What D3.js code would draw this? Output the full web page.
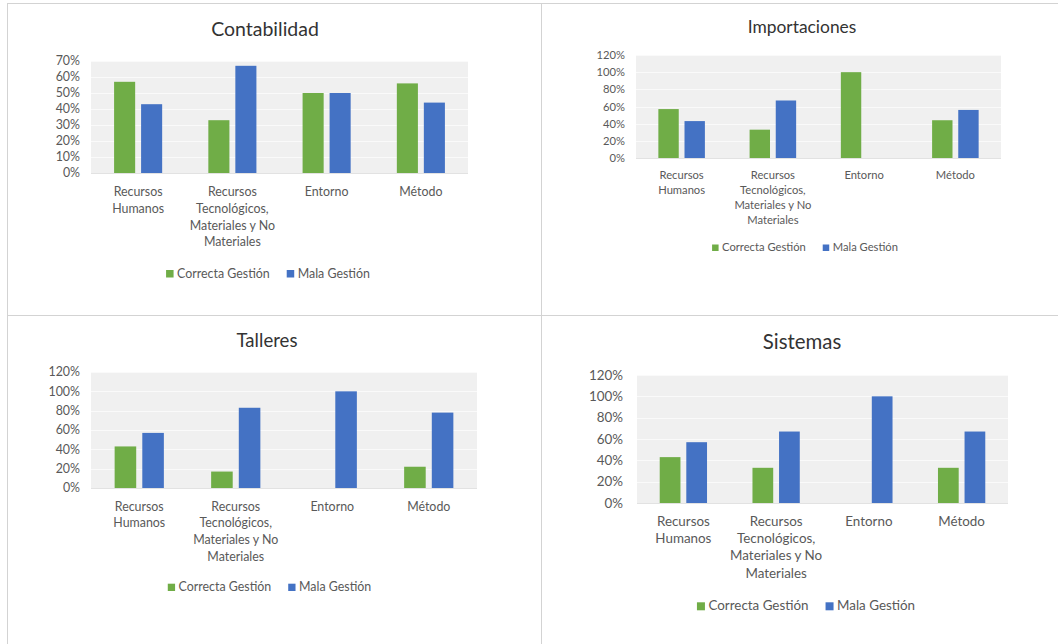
<!DOCTYPE html>
<html><head><meta charset="utf-8">
<script src="https://cdn.jsdelivr.net/npm/d3@7"></script>
<style>
html,body{margin:0;padding:0;background:#fff;}
svg{display:block;font-family:Lato,"Open Sans",sans-serif;}
</style></head>
<body>
<svg id="c" width="1058" height="644"></svg>
<script>
// ---- data ----
const categories = ["Recursos Humanos", "Recursos Tecnológicos, Materiales y No Materiales", "Entorno", "Método"];
const categoryLines = [["Recursos","Humanos"],["Recursos","Tecnológicos,","Materiales y No","Materiales"],["Entorno"],["Método"]];
const seriesNames = ["Correcta Gestión", "Mala Gestión"];
const contabilidadCorrecta = [57, 33, 50, 56];
const contabilidadMala     = [43, 67, 50, 44];
const importacionesCorrecta = [57, 33, 100, 44];
const importacionesMala     = [43, 67, 0, 56];
const talleresCorrecta = [43, 17, 0, 22];
const talleresMala     = [57, 83, 100, 78];
const sistemasCorrecta = [43, 33, 0, 33];
const sistemasMala     = [57, 67, 100, 67];
const ticksContabilidad = [0, 10, 20, 30, 40, 50, 60, 70];
const ticks120 = [0, 20, 40, 60, 80, 100, 120];

// ---- layout ----
const colors = ["#70ad47", "#4472c4"];
const panels = [
  {title:"Contabilidad", a:contabilidadCorrecta, b:contabilidadMala, ticks:ticksContabilidad,
   tSize:19.5, fSize:12.4, tx:265, ty:36, px:[91,468], py:[61,173], yLabX:80, xlY:196, lh:16.8, lgY:277.5, lgCx:268, sq:7.5},
  {title:"Importaciones", a:importacionesCorrecta, b:importacionesMala, ticks:ticks120,
   tSize:17.4, fSize:11.2, tx:802, ty:33, px:[636,1001], py:[55,158], yLabX:625, xlY:179, lh:15, lgY:251, lgCx:805, sq:6.5},
  {title:"Talleres", a:talleresCorrecta, b:talleresMala, ticks:ticks120,
   tSize:18.6, fSize:12.4, tx:267, ty:347, px:[91,477], py:[372,488], yLabX:80, xlY:510.7, lh:16.7, lgY:591, lgCx:269.5, sq:7.3},
  {title:"Sistemas", a:sistemasCorrecta, b:sistemasMala, ticks:ticks120,
   tSize:20.4, fSize:13.4, tx:802, ty:349, px:[637,1008], py:[375,503], yLabX:623, xlY:525.7, lh:17.3, lgY:610.3, lgCx:806, sq:8}
];

const svg = d3.select("#c");
// panel borders
const bc = "#d3d3d3";
svg.append("line").attr("x1",7).attr("x2",1058).attr("y1",3.5).attr("y2",3.5).attr("stroke",bc);
svg.append("line").attr("x1",7).attr("x2",1058).attr("y1",315.5).attr("y2",315.5).attr("stroke",bc);
svg.append("line").attr("x1",7.5).attr("x2",7.5).attr("y1",3).attr("y2",644).attr("stroke",bc);
svg.append("line").attr("x1",541.5).attr("x2",541.5).attr("y1",3).attr("y2",644).attr("stroke",bc);

panels.forEach(p => {
  const g = svg.append("g");
  const ymax = p.ticks[p.ticks.length-1];
  const y = d3.scaleLinear().domain([0, ymax]).range([p.py[1], p.py[0]]);
  const x0 = d3.scaleBand().domain(categories).range(p.px).paddingInner(0.49).paddingOuter(0.245);
  const x1 = d3.scaleBand().domain(seriesNames).range([0, x0.bandwidth()]).paddingInner(0.22);
  const xc = d3.scaleBand().domain(categories).range(p.px);

  // plot bg
  g.append("rect").attr("x",p.px[0]).attr("y",p.py[0]).attr("width",p.px[1]-p.px[0]).attr("height",p.py[1]-p.py[0]).attr("fill","#f0f0f0");
  // gridlines
  g.selectAll(".grid").data(p.ticks.slice(1)).join("line")
    .attr("x1",p.px[0]).attr("x2",p.px[1])
    .attr("y1",d=>Math.round(y(d))+0.5).attr("y2",d=>Math.round(y(d))+0.5)
    .attr("stroke","#fafafa").attr("stroke-width",1);
  // axis baseline
  g.append("line").attr("x1",p.px[0]).attr("x2",p.px[1]).attr("y1",p.py[1]+0.5).attr("y2",p.py[1]+0.5).attr("stroke","#e2e2e2");

  // y axis
  const yAxis = d3.axisLeft(y).tickValues(p.ticks).tickFormat(d=>d+"%").tickSize(0).tickPadding(0);
  const ya = g.append("g").attr("transform",`translate(${p.yLabX},0)`).call(yAxis);
  ya.select(".domain").remove();
  ya.selectAll("text").attr("fill","#595959").style("font-size",p.fSize+"px").style("font-family","Lato");

  // bars
  const rows = categories.map((c,i)=>({cat:c, vals:[p.a[i], p.b[i]]}));
  const grp = g.selectAll(".cat").data(rows).join("g").attr("transform",d=>`translate(${x0(d.cat)},0)`);
  grp.selectAll("rect").data(d=>d.vals.map((v,j)=>({s:seriesNames[j], v, j}))).join("rect")
    .attr("x",d=>x1(d.s)).attr("width",x1.bandwidth())
    .attr("y",d=>y(d.v)).attr("height",d=>y(0)-y(d.v))
    .attr("fill",d=>colors[d.j]);

  // x labels
  categories.forEach((c,i)=>{
    const t = g.append("text").attr("text-anchor","middle").attr("fill","#595959")
      .style("font-size",p.fSize+"px");
    categoryLines[i].forEach((ln,k)=>{
      t.append("tspan").attr("x",xc(c)+xc.bandwidth()/2).attr("y",p.xlY + k*p.lh).text(ln);
    });
  });

  // title
  g.append("text").attr("x",p.tx).attr("y",p.ty).attr("text-anchor","middle")
    .attr("fill","#333").style("font-size",p.tSize+"px").text(p.title);

  // legend
  const lg = g.append("g");
  let cx = 0;
  const items = [];
  seriesNames.forEach((s,j)=>{
    const r = lg.append("rect").attr("x",cx).attr("y",p.lgY-p.sq).attr("width",p.sq).attr("height",p.sq).attr("fill",colors[j]);
    cx += p.sq + 3.5;
    const t = lg.append("text").attr("x",cx).attr("y",p.lgY).attr("fill","#595959").style("font-size",p.fSize+"px").text(s);
    cx += t.node().getComputedTextLength();
    if (j < seriesNames.length-1) cx += 17;
  });
  lg.attr("transform",`translate(${p.lgCx - cx/2},0)`);
});
</script>
</body></html>
